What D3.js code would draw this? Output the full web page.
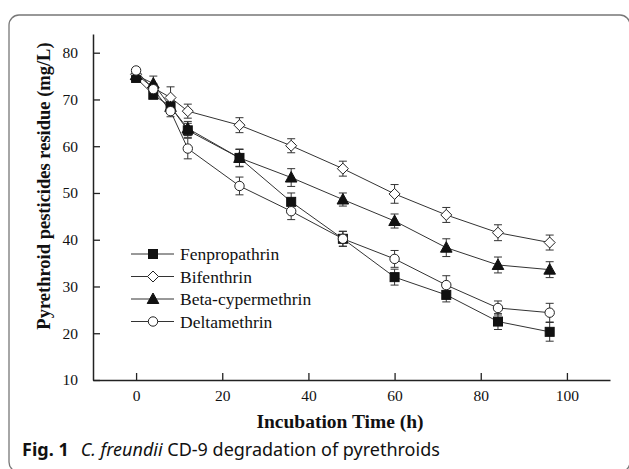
<!DOCTYPE html>
<html>
<head>
<meta charset="utf-8">
<script src="https://cdn.jsdelivr.net/npm/d3@7"></script>
<style>
  body { margin: 0; background: #fff; }
  svg text { fill: #111; }
</style>
</head>
<body>
<div id="chart"></div>
<script>
// sampling times (h)
var hours = [0, 4, 8, 12, 24, 36, 48, 60, 72, 84, 96];

// residue (mg/L), with error bars
var fenpropathrin    = [74.6, 71.0, 68.5, 63.4, 57.5, 48.1, 40.2, 32.0, 28.2, 22.5, 20.3];
var fenpropathrinErr = [0.6, 0.8, 1.0, 1.5, 1.9, 1.9, 1.6, 1.7, 1.5, 1.7, 2.0];
var bifenthrin       = [75.4, 72.5, 70.4, 67.5, 64.5, 60.1, 55.2, 49.8, 45.3, 41.5, 39.4];
var bifenthrinErr    = [0.7, 0.9, 2.3, 1.5, 1.6, 1.5, 1.6, 2.0, 1.6, 1.7, 1.6];
var betaCyper        = [75.2, 73.4, 68.4, 63.8, 57.5, 53.3, 48.6, 44.0, 38.3, 34.6, 33.6];
var betaCyperErr     = [0.6, 1.6, 1.2, 1.5, 1.8, 1.9, 1.4, 1.5, 1.9, 1.7, 1.7];
var deltamethrin     = [76.2, 72.2, 67.5, 59.5, 51.5, 46.1, 40.2, 35.9, 30.3, 25.4, 24.4];
var deltamethrinErr  = [0.6, 0.9, 1.2, 2.2, 1.9, 1.8, 1.6, 1.8, 2.0, 1.5, 2.0];

var seriesNames = ["Fenpropathrin", "Bifenthrin", "Beta-cypermethrin", "Deltamethrin"];
var xTicks = [0, 20, 40, 60, 80, 100];
var yTicks = [10, 20, 30, 40, 50, 60, 70, 80];

var series = [
  {name: seriesNames[0], values: fenpropathrin, err: fenpropathrinErr, shape: "square"},
  {name: seriesNames[1], values: bifenthrin, err: bifenthrinErr, shape: "diamond"},
  {name: seriesNames[2], values: betaCyper, err: betaCyperErr, shape: "triangle"},
  {name: seriesNames[3], values: deltamethrin, err: deltamethrinErr, shape: "circle"}
];

var svgWidth = 629;
var svgHeight = 469;
var ink = "#222";
var serif = "'Liberation Serif', 'Times New Roman', serif";

var svg = d3.select("#chart")
  .append("svg")
  .attr("width", svgWidth)
  .attr("height", svgHeight);

// rounded frame around the figure (right and bottom edges run off the page)
svg.append("rect")
  .attr("x", 9)
  .attr("y", 15)
  .attr("width", 621)
  .attr("height", 457)
  .attr("rx", 10)
  .attr("fill", "none")
  .attr("stroke", "#777")
  .attr("stroke-width", 1.3);

var x = d3.scaleLinear().domain([-10, 110]).range([93, 610]);
var y = d3.scaleLinear().domain([10, 84]).range([380, 34]);

// axes, ticks pointing inward
var xAxis = d3.axisBottom(x).tickValues(xTicks).tickSizeInner(-7).tickSizeOuter(0).tickPadding(10);
var yAxis = d3.axisLeft(y).tickValues(yTicks).tickSizeInner(-7).tickSizeOuter(0).tickPadding(15);

var gx = svg.append("g")
  .attr("transform", "translate(0," + y(10) + ")")
  .call(xAxis);
var gy = svg.append("g")
  .attr("transform", "translate(" + x(-10) + ",0)")
  .call(yAxis);

[gx, gy].forEach(function(g) {
  g.select(".domain").attr("stroke", ink).attr("stroke-width", 1.5);
  g.selectAll(".tick line").attr("stroke", ink).attr("stroke-width", 1.3);
  g.selectAll(".tick text")
    .attr("font-family", serif)
    .attr("font-size", "15.5px")
    .attr("fill", "#111");
});

// axis titles
svg.append("text")
  .attr("x", 340)
  .attr("y", 428)
  .attr("text-anchor", "middle")
  .attr("font-family", serif)
  .attr("font-weight", "bold")
  .attr("font-size", "19.5px")
  .text("Incubation Time (h)");

svg.append("text")
  .attr("transform", "translate(50,186) rotate(-90)")
  .attr("text-anchor", "middle")
  .attr("font-family", serif)
  .attr("font-weight", "bold")
  .attr("font-size", "18.5px")
  .text("Pyrethroid pesticides residue (mg/L)");

// marker drawing helper
function marker(g, shape, cx, cy) {
  if (shape === "square") {
    g.append("rect").attr("x", cx - 4.5).attr("y", cy - 4.5).attr("width", 9).attr("height", 9)
      .attr("fill", "#111").attr("stroke", "#111");
  } else if (shape === "diamond") {
    g.append("path").attr("d", "M" + cx + "," + (cy - 5.5) + "L" + (cx + 5.5) + "," + cy +
        "L" + cx + "," + (cy + 5.5) + "L" + (cx - 5.5) + "," + cy + "Z")
      .attr("fill", "#fff").attr("stroke", "#222").attr("stroke-width", 1);
  } else if (shape === "triangle") {
    g.append("path").attr("d", "M" + cx + "," + (cy - 6) + "L" + (cx + 5.8) + "," + (cy + 4.5) +
        "L" + (cx - 5.8) + "," + (cy + 4.5) + "Z")
      .attr("fill", "#111").attr("stroke", "#111");
  } else {
    g.append("circle").attr("cx", cx).attr("cy", cy).attr("r", 4.7)
      .attr("fill", "#fff").attr("stroke", "#222").attr("stroke-width", 1);
  }
}

var line = d3.line()
  .x(function(d) { return x(d.t); })
  .y(function(d) { return y(d.v); });

var plot = svg.append("g");

series.forEach(function(s) {
  var pts = hours.map(function(t, i) { return {t: t, v: s.values[i], e: s.err[i]}; });
  s.pts = pts;
  plot.append("path")
    .datum(pts)
    .attr("d", line)
    .attr("fill", "none")
    .attr("stroke", "#333")
    .attr("stroke-width", 1);
});

series.forEach(function(s) {
  var eb = plot.append("g").attr("stroke", "#333").attr("stroke-width", 1);
  s.pts.forEach(function(p) {
    var px = x(p.t);
    eb.append("line").attr("x1", px).attr("x2", px).attr("y1", y(p.v - p.e)).attr("y2", y(p.v + p.e));
    eb.append("line").attr("x1", px - 4).attr("x2", px + 4).attr("y1", y(p.v - p.e)).attr("y2", y(p.v - p.e));
    eb.append("line").attr("x1", px - 4).attr("x2", px + 4).attr("y1", y(p.v + p.e)).attr("y2", y(p.v + p.e));
  });
});

series.forEach(function(s) {
  var mg = plot.append("g");
  s.pts.forEach(function(p) { marker(mg, s.shape, x(p.t), y(p.v)); });
});

// legend
var legend = svg.append("g");
series.forEach(function(s, i) {
  var ly = 254 + i * 22.5;
  legend.append("line")
    .attr("x1", 131).attr("x2", 174).attr("y1", ly).attr("y2", ly)
    .attr("stroke", "#333").attr("stroke-width", 1);
  marker(legend, s.shape, 153, ly);
  legend.append("text")
    .attr("x", 180)
    .attr("y", ly + 6)
    .attr("font-family", serif)
    .attr("font-size", "17.5px")
    .text(s.name);
});

// figure caption
var cap = svg.append("text")
  .attr("x", 22)
  .attr("y", 456)
  .attr("font-family", "'Noto Sans', sans-serif")
  .attr("font-size", "18px");
cap.append("tspan").attr("font-weight", "bold").text("Fig. 1");
cap.append("tspan").attr("dx", 12).attr("font-style", "italic").text("C. freundii");
cap.append("tspan").text(" CD-9 degradation of pyrethroids");
</script>
</body>
</html>
